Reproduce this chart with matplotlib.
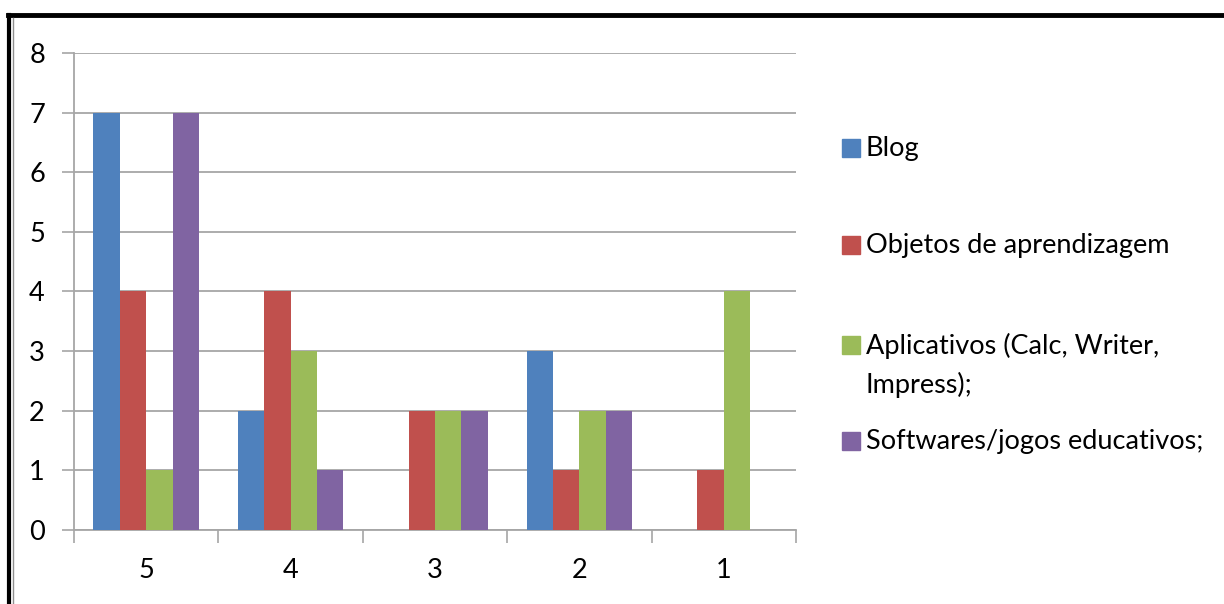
import numpy as np
import matplotlib.pyplot as plt
from matplotlib.patches import Rectangle
from matplotlib.lines import Line2D

plt.rcParams['font.family'] = ['Lato', 'DejaVu Sans']

categories = ['5', '4', '3', '2', '1']
series_names = ['Blog', 'Objetos de aprendizagem',
                'Aplicativos (Calc, Writer,\nImpress);', 'Softwares/jogos educativos;']
blog = [7, 2, 0, 3, 0]
objetos = [4, 4, 2, 1, 1]
aplicativos = [1, 3, 2, 2, 4]
softwares = [7, 1, 2, 2, 0]
colors = ['#4f81bd', '#c0504d', '#9bbb59', '#8064a2']

series = [blog, objetos, aplicativos, softwares]

fig = plt.figure(figsize=(12.24, 6.04), dpi=100)
ax = fig.add_axes([0.0605, 0.1225, 0.5898, 0.7898])

x = np.arange(len(categories))
bar_w = 0.183
for i, (vals, col) in enumerate(zip(series, colors)):
    ax.bar(x + (i - 1.5) * bar_w, vals, width=bar_w, color=col, zorder=3)

ax.set_xlim(-0.5, len(categories) - 0.5)
ax.set_ylim(0, 8)
ax.set_yticks(range(0, 9))
ax.yaxis.grid(True, color='#a6a6a6', linewidth=1.3, zorder=0)

# x ticks sit between the category groups, labels in the middle
ax.set_xticks(np.arange(-0.5, len(categories)), minor=False)
ax.set_xticklabels([])
ax.set_xticks(x, minor=True)
ax.set_xticklabels(categories, minor=True)
ax.tick_params(axis='x', which='major', length=9, width=1.2, color='#a6a6a6', direction='out')
ax.tick_params(axis='x', which='minor', length=0, pad=20, labelsize=19.5)
ax.tick_params(axis='y', length=9, width=1.2, color='#a6a6a6', pad=12, labelsize=19.5)

for side in ['top', 'right']:
    ax.spines[side].set_visible(False)
for side in ['left', 'bottom']:
    ax.spines[side].set_color('#a6a6a6')
    ax.spines[side].set_linewidth(1.3)

# legend drawn by hand on the right side
W, H = 1224, 604
legend_y = [148, 245, 345, 441]
for name, col, ly in zip(series_names, colors, legend_y):
    fig.patches.append(Rectangle((842 / W, 1 - (ly + 9) / H), 18 / W, 18 / H,
                                 transform=fig.transFigure, color=col))
    fig.text(866 / W, 1 - (ly - 12) / H, name, fontsize=19.5, va='top', ha='left',
             linespacing=1.6)

# frame lines along top and left edges
fig.lines.append(Line2D([8 / W, 1], [1 - 15 / H, 1 - 15 / H], transform=fig.transFigure,
                        color='black', linewidth=3.5))
fig.lines.append(Line2D([9 / W, 9 / W], [0, 1 - 15 / H], transform=fig.transFigure,
                        color='black', linewidth=3.0))
fig.lines.append(Line2D([13 / W, 13 / W], [0, 1 - 18 / H], transform=fig.transFigure,
                        color='#909090', linewidth=1.0))

fig.savefig('out.png', dpi=100)
